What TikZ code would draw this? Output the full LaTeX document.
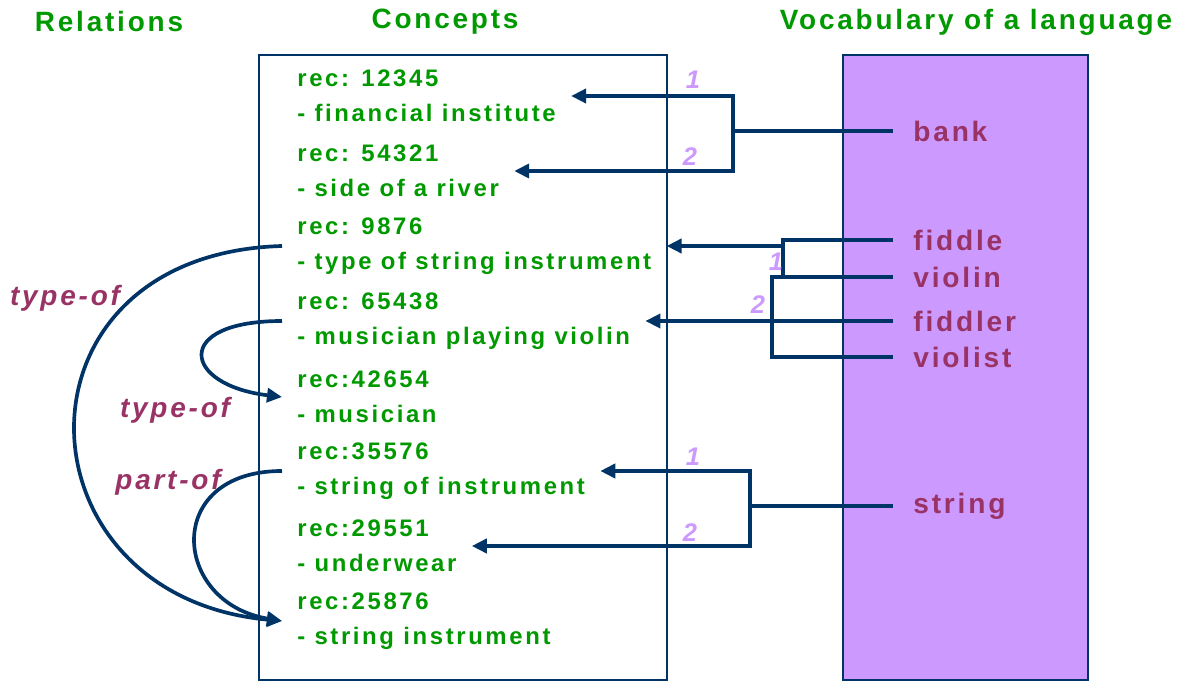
\documentclass[tikz,border=0pt]{standalone}
\usepackage{fontspec}
\setmainfont{Liberation Sans}
\newfontfamily\titlefont[LetterSpace=10]{Liberation Sans}
\newfontfamily\conceptfont[LetterSpace=11]{Liberation Sans}
\newfontfamily\wordfont[LetterSpace=10]{Liberation Sans}
\usetikzlibrary{arrows.meta}

\definecolor{cgreen}{RGB}{0,153,0}
\definecolor{cmaroon}{RGB}{153,51,102}
\definecolor{cpurple}{RGB}{204,153,255}
\definecolor{cblue}{RGB}{0,51,102}

\tikzset{
  title/.style={text=cgreen, inner sep=0pt, font=\titlefont\bfseries\fontsize{15.9}{18}\selectfont},
  concept/.style={anchor=west, align=left, inner xsep=0.3cm, inner ysep=0pt, text=cgreen,
    font=\conceptfont\bfseries\fontsize{13.6}{19.9}\selectfont},
  word/.style={anchor=west, inner xsep=0.4cm, inner ysep=0pt, text=cmaroon,
    font=\wordfont\bfseries\fontsize{16}{18}\selectfont},
  relation/.style={text=cmaroon, inner sep=0pt, font=\titlefont\bfseries\itshape\fontsize{15.9}{18}\selectfont},
  number/.style={text=cpurple, inner sep=0pt, font=\bfseries\itshape\fontsize{14.5}{16}\selectfont},
  frame/.style={draw=cblue, line width=0.9pt},
  link/.style={draw=cblue, line width=2.1pt},
  arrow/.style={link, -{Triangle[length=0.3cm, width=0.28cm]}}
}

\begin{document}
\begin{tikzpicture}[x=0.02cm, y=-0.02cm]

    \useasboundingbox (0,0) rectangle (1187,682);

    % the two columns
    \draw[frame] (259,55) rectangle (667,680);
    \draw[frame, fill=cpurple] (843,55) rectangle (1088,680);

    % headings
    \node[title] (hrel) at (109,22) {Relations};
    \node[title] (hcon) at (445,22) {Concepts};
    \node[title] (hvoc) at (976,22) {Vocabulary of a language};

    % these are the concepts
    \node[concept] (c1) at (282,96) {rec: 12345\\- financial institute};
    \node[concept] (c2) at (282,171) {rec: 54321\\- side of a river};
    \node[concept] (c3) at (282,246) {rec: 9876\\- type of string instrument};
    \node[concept] (c4) at (282,321) {rec: 65438\\- musician playing violin};
    \node[concept] (c5) at (282,397) {rec:42654\\- musician};
    \node[concept] (c6) at (282,471) {rec:35576\\- string of instrument};
    \node[concept] (c7) at (282,546) {rec:29551\\- underwear};
    \node[concept] (c8) at (282,621) {rec:25876\\- string instrument};

    % these are the words
    \node[word] (bank) at (893,131) {bank};
    \node[word] (fiddle) at (893,240) {fiddle};
    \node[word] (violin) at (893,277) {violin};
    \node[word] (fiddler) at (893,321) {fiddler};
    \node[word] (violist) at (893,357) {violist};
    \node[word] (string) at (893,506) {string};

    % junctions
    \coordinate (jb) at (733,131);
    \coordinate (jf) at (783,277);
    \coordinate (jv) at (772,277);
    \coordinate (js) at (750,506);

    % bank
    \draw[link] (bank.west) -- (jb);
    \draw[arrow] (jb) |- (c1.east);
    \draw[arrow] (jb) |- (c2.east);
    \node[number] (nb1) at (693,80) {1};
    \node[number] (nb2) at (690,157) {2};

    % fiddle, violin, fiddler, violist
    \draw[link] (fiddle.west) -| (jf) -- (violin.west);
    \draw[arrow] (jf |- c3.east) -- (c3.east);
    \draw[link] (violin.west) -- (jv) |- (violist.west);
    \draw[arrow] (fiddler.west) -- (c4.east);
    \node[number] (nf1) at (776,262) {1};
    \node[number] (nf2) at (758,305) {2};

    % string
    \draw[link] (string.west) -- (js);
    \draw[arrow] (js) |- (c6.east);
    \draw[arrow] (js) |- (c7.east);
    \node[number] (ns1) at (693,457) {1};
    \node[number] (ns2) at (690,533) {2};

    % relations between concepts
    \draw[arrow] (c3.west) .. controls +(-280,8) and +(-270,-25) .. (c8.west);
    \draw[arrow] (c4.west) .. controls +(-110,0) and +(-100,-12) .. (c5.west);
    \draw[arrow] (c6.west) .. controls +(-120,0) and +(-110,-18) .. (c8.west);
    \node[relation] (r1) at (65,298) {type-of};
    \node[relation] (r2) at (175,410) {type-of};
    \node[relation] (r3) at (168,482) {part-of};

\end{tikzpicture}
\end{document}
